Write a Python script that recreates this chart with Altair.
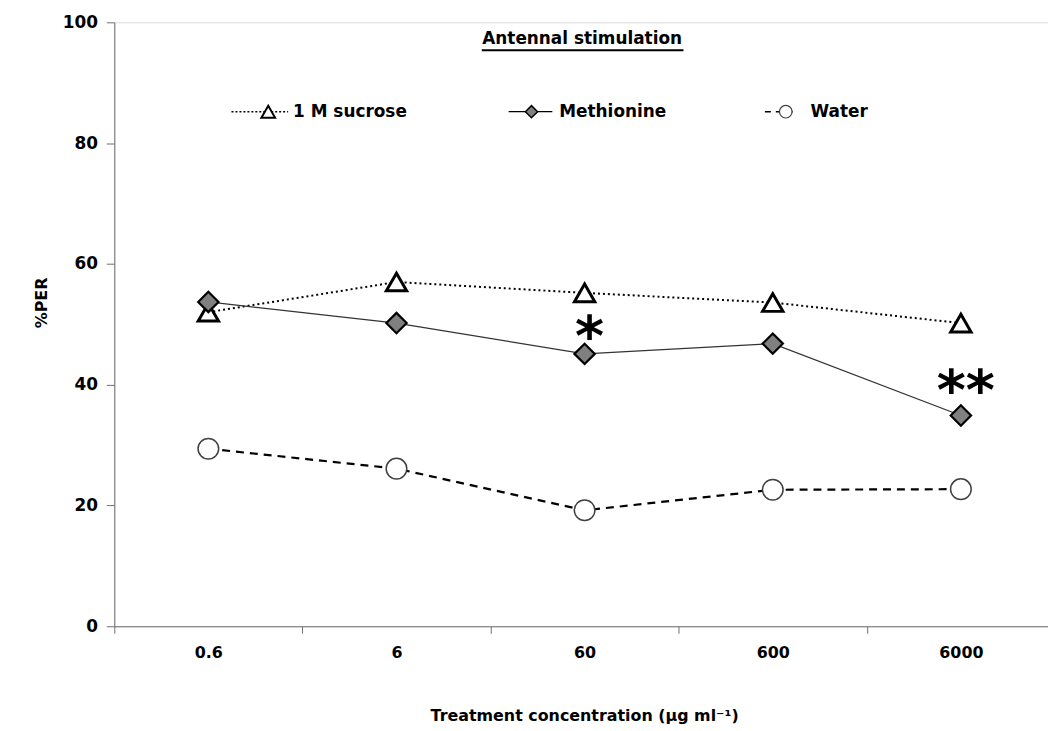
import altair as alt
import pandas as pd

# ---------------- data ----------------
concentrations = ["0.6", "6", "60", "600", "6000"]
sucrose = [52.0, 57.0, 55.2, 53.6, 50.2]
methionine = [53.7, 50.2, 45.1, 46.8, 34.9]
water = [29.4, 26.1, 19.2, 22.6, 22.7]

series_names = ["1 M sucrose", "Methionine", "Water"]

sig_conc = ["60", "6000"]
sig_label = ["*", "**"]
sig_value = [49.6, 40.6]

chart_title = "Antennal stimulation"
x_title = "Treatment concentration (µg ml⁻¹)"
y_title = "%PER"
y_ticks = [0, 20, 40, 60, 80, 100]

# ---------------- tables ----------------
rows = []
for name, vals in zip(series_names, [sucrose, methionine, water]):
    for c, v in zip(concentrations, vals):
        rows.append({"series": name, "conc": c, "value": v})
df = pd.DataFrame(rows)
sig_df = pd.DataFrame({"conc": sig_conc, "label": sig_label, "value": sig_value})

FONT = "DejaVu Sans"
AXIS_GRAY = "#6f6f6f"

x_enc = alt.X(
    "conc:N",
    sort=concentrations,
    scale=alt.Scale(domain=concentrations, range=[0, 947], paddingInner=0, paddingOuter=0),
    axis=alt.Axis(
        title=x_title, labelAngle=0, tickBand="extent", grid=False,
        domainColor=AXIS_GRAY, tickColor=AXIS_GRAY, tickSize=7,
        labelFont=FONT, labelFontWeight="bold", labelFontSize=16, labelColor="black",
        labelPadding=11,
        titleFont=FONT, titleFontWeight="bold", titleFontSize=16, titleColor="black",
        titleX=473, titleY=90, titleBaseline="middle",
    ),
)
y_enc = alt.Y(
    "value:Q",
    scale=alt.Scale(domain=[0, 100], nice=False, zero=True),
    axis=alt.Axis(
        values=y_ticks, grid=False, title=y_title,
        domainColor=AXIS_GRAY, tickColor=AXIS_GRAY, tickSize=8,
        labelFont=FONT, labelFontWeight="bold", labelFontSize=17, labelColor="black",
        labelPadding=9,
        titleFont=FONT, titleFontWeight="bold", titleFontSize=16, titleColor="black",
        titleX=-73, titleY=282, titleAngle=270, titleBaseline="middle", titleAlign="center",
    ),
)

base = alt.Chart(df)

styles = {
    "1 M sucrose": dict(line=dict(strokeDash=[2, 3], strokeWidth=2, color="black"),
                        pt=dict(shape="triangle-up", fill="white", stroke="black", strokeWidth=3, size=420)),
    "Methionine": dict(line=dict(strokeWidth=1.3, color="#333333"),
                       pt=dict(shape="diamond", fill="#808080", stroke="black", strokeWidth=2.2, size=420)),
    "Water": dict(line=dict(strokeDash=[8, 6], strokeWidth=2.2, color="black"),
                  pt=dict(shape="circle", fill="white", stroke="#404040", strokeWidth=1.5, size=430)),
}

layers = []
for name in series_names:
    layers.append(
        base.transform_filter(alt.datum.series == name)
        .mark_line(**styles[name]["line"])
        .encode(x=x_enc, y=y_enc)
    )
for name in ["Water", "1 M sucrose", "Methionine"]:
    layers.append(
        base.transform_filter(alt.datum.series == name)
        .mark_point(filled=True, opacity=1, **styles[name]["pt"])
        .encode(x=x_enc, y=y_enc)
    )

# significance asterisks
layers.append(
    alt.Chart(sig_df).mark_text(font=FONT, fontWeight="bold", fontSize=56, color="black",
                                baseline="alphabetic", dx=5, dy=28)
    .encode(x=x_enc, y=y_enc, text="label:N")
)

# title with underline
layers.append(
    alt.Chart(pd.DataFrame({"t": [chart_title]})).mark_text(
        font=FONT, fontWeight="bold", fontSize=17, color="black", baseline="middle", align="center")
    .encode(x=alt.value(471), y=alt.value(17), text="t:N")
)
layers.append(
    alt.Chart(pd.DataFrame({"t": [chart_title]})).mark_rule(color="black", strokeWidth=2)
    .encode(x=alt.value(370), x2=alt.value(573), y=alt.value(28))
)

# custom legend
legend_layout = {
    "1 M sucrose": dict(x1=118, x2=175, px=155, tx=180, shape="triangle-up", fill="white",
                        stroke="black", sw=2, size=190, dash=[2, 2], lw=1.5),
    "Methionine": dict(x1=397, x2=441, px=420, tx=448, shape="diamond", fill="#808080",
                       stroke="black", sw=1.5, size=150, dash=[1, 0], lw=1.3),
    "Water": dict(x1=655, x2=687, px=676, tx=701, shape="circle", fill="white",
                  stroke="#404040", sw=1.2, size=160, dash=[6, 5], lw=1.5),
}
LY = 90
for name in series_names:
    L = legend_layout[name]
    ldf = pd.DataFrame({"label": [name]})
    layers.append(
        alt.Chart(ldf).mark_rule(color="black", strokeWidth=L["lw"], strokeDash=L["dash"])
        .encode(x=alt.value(L["x1"]), x2=alt.value(L["x2"]), y=alt.value(LY))
    )
    layers.append(
        alt.Chart(ldf).mark_point(shape=L["shape"], filled=True, fill=L["fill"], stroke=L["stroke"],
                                  strokeWidth=L["sw"], size=L["size"], opacity=1)
        .encode(x=alt.value(L["px"]), y=alt.value(LY))
    )
    layers.append(
        alt.Chart(ldf).mark_text(font=FONT, fontWeight="bold", fontSize=17, color="black",
                                 align="left", baseline="middle")
        .encode(x=alt.value(L["tx"]), y=alt.value(LY), text="label:N")
    )

chart = (
    alt.layer(*layers)
    .properties(
        width=940, height=608,
        autosize=alt.AutoSizeParams(type="none"),
        padding={"left": 107, "top": 12, "right": 0, "bottom": 100},
    )
    .configure_view(stroke=None)
    .configure(background="white")
)

chart.save("out.html", embed_options={"renderer": "svg", "actions": False})
